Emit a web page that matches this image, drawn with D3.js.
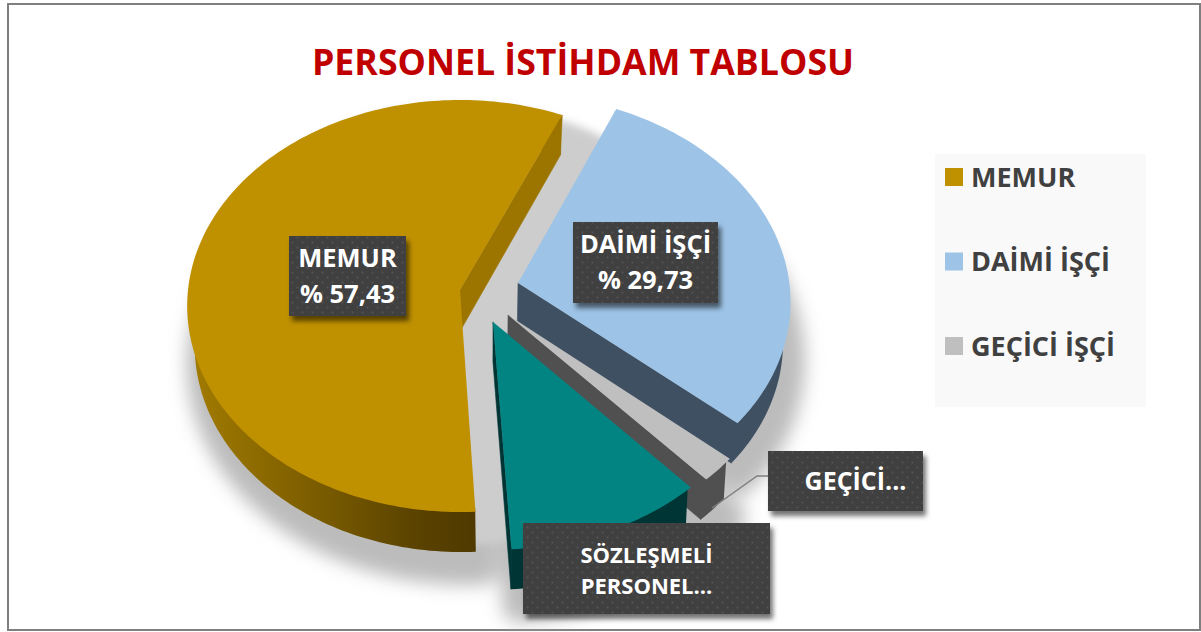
<!DOCTYPE html>
<html><head><meta charset="utf-8">
<script src="https://cdn.jsdelivr.net/npm/d3@7/dist/d3.min.js"></script>
<style>html,body{margin:0;padding:0;background:#fff}svg{display:block}text{font-family:"Open Sans",sans-serif;font-weight:700}</style>
</head><body><div id="c"></div>
<script>
// ---- data ----
const categories = ["MEMUR","DAİMİ İŞÇİ","GEÇİCİ İŞÇİ","SÖZLEŞMELİ PERSONEL"];
const values = [57.43, 29.73, 2.0, 10.84];
const legendItems = ["MEMUR","DAİMİ İŞÇİ","GEÇİCİ İŞÇİ"];
const labelLines = [["MEMUR","% 57,43"],["DAİMİ İŞÇİ","% 29,73"],["GEÇİCİ..."],["SÖZLEŞMELİ","PERSONEL..."]];
const titleText = "PERSONEL İSTİHDAM TABLOSU";
// ---- layout / style ----
const W=1201,H=632;
const explode=[[0,0],[.214,.034],[.175,-.121],[.120,-.154]];
const topCol=["#BF9000","#9DC3E6","#BFBFBF","#028482"];
const cutCol=["#9C7500","#3F5062","#505050","#003535"];
const wallCol=["url(#goldWall)","#3F5062","#505050","#003535"];
const boxes=[
 {x:289,y:236,w:117,h:80,fs:25.5,lh:36,b:267},
 {x:573,y:222,w:145,h:81,fs:25.5,lh:36,b:253},
 {x:768,y:451,w:155,h:60,fs:25,lh:0,b:490,dx:10},
 {x:523,y:523,w:247,h:91,fs:22,lh:31,b:563}];
const cx=460,cy=306,A=206,C=272,P=.0777,B=-16,DEPTH=40;
const scaleU=d3.scaleLinear().domain([-1,1]).range([-C,C]);
const scaleV=d3.scaleLinear().domain([-1,1]).range([A,-A]);
function project(u,v,low){
  const w=1+P*v;
  let x=cx+scaleU(u)/w, y=cy+(scaleV(v)+B)/w;
  if(low){x=490+.975*(x-490);y+=DEPTH;}
  return [x,y];
}
const pie=d3.pie().sort(null).startAngle(177*Math.PI/180).endAngle((177+360)*Math.PI/180);
const arcs=pie(values);
const line=d3.line();
function arcPts(d,i,low){
  const n=Math.max(4,Math.ceil((d.endAngle-d.startAngle)/0.02));
  return d3.range(n+1).map(k=>{
    const t=d.startAngle+(d.endAngle-d.startAngle)*k/n;
    return project(explode[i][0]+Math.sin(t),explode[i][1]+Math.cos(t),low);
  });
}
const apex=(i,low)=>project(explode[i][0],explode[i][1],low);
const svg=d3.select("#c").append("svg").attr("width",W).attr("height",H);
const defs=svg.append("defs");
const g1=defs.append("linearGradient").attr("id","goldWall").attr("gradientUnits","userSpaceOnUse")
  .attr("x1",190).attr("x2",474).attr("y1",0).attr("y2",0);
[[0,"#A27B00"],[.45,"#7A5C00"],[.8,"#5A4200"],[1,"#503A00"]].forEach(s=>g1.append("stop").attr("offset",s[0]).attr("stop-color",s[1]));
const blur=defs.append("filter").attr("id","blur").attr("x","-20%").attr("y","-20%").attr("width","140%").attr("height","140%");
blur.append("feGaussianBlur").attr("stdDeviation",9);
const soft=defs.append("filter").attr("id","soft").attr("x","-10%").attr("y","-10%").attr("width","120%").attr("height","120%");
soft.append("feGaussianBlur").attr("stdDeviation",4);
const boxSh=defs.append("filter").attr("id","boxSh").attr("x","-10%").attr("y","-10%").attr("width","125%").attr("height","130%");
boxSh.append("feDropShadow").attr("dx",3).attr("dy",5).attr("stdDeviation",2.5).attr("flood-color","#000").attr("flood-opacity",.55);
const pat=defs.append("pattern").attr("id","dots").attr("patternUnits","userSpaceOnUse").attr("width",10).attr("height",10);
pat.append("rect").attr("width",10).attr("height",10).attr("fill","#404040");
[[2.5,2.5],[7.5,7.5]].forEach(p=>pat.append("circle").attr("cx",p[0]).attr("cy",p[1]).attr("r",1.1).attr("fill","#525252"));
// frame
svg.append("rect").attr("x",8).attr("y",4).attr("width",1192).attr("height",626).attr("fill","#fff").attr("stroke","#7f7f7f").attr("stroke-width",2);
// title
svg.append("text").attr("x",583).attr("y",74.5).attr("text-anchor","middle").attr("font-size",35.7).attr("fill","#C00000").text(titleText);
// shadow
const sh=svg.append("g").attr("filter","url(#blur)").attr("fill","#bcbcbc").attr("stroke","#bcbcbc").attr("stroke-width",30).attr("stroke-linejoin","round");
arcs.forEach((d,i)=>{
  const pts=[apex(i,true),...arcPts(d,i,true)];
  sh.append("path").attr("d",line(pts)+"Z").attr("transform","translate(7,18)");
});
// gap fill: the un-exploded cylinder, softened, seen between the slices
const disc=svg.append("g").attr("filter","url(#soft)").attr("fill","#cdcdcd");
[false,true].forEach(low=>disc.append("path").attr("d",line(d3.range(0,361,3).map(a=>project(.97*Math.sin(a*Math.PI/180),.97*Math.cos(a*Math.PI/180),low)))+"Z"));
// slices
const gs=svg.selectAll("g.s").data(arcs).join("g").attr("class","s");
gs.each(function(d,i){
  const g=d3.select(this);
  const t=arcPts(d,i,false), b=arcPts(d,i,true);
  const a0=apex(i,false),a1=apex(i,true);
  // outer wall tucked just under the top face so no fringe shows along its rim
  const tucked=t.map(p=>[p[0]+(a0[0]-p[0])*.015,p[1]+(a0[1]-p[1])*.015]);
  g.append("path").attr("d",line([...tucked,...b.slice().reverse()])+"Z").attr("fill",wallCol[i]);
  // only the cut face at each slice's end angle looks toward the viewer
  const e0=t[t.length-1],e1=b[b.length-1];
  g.append("path").attr("d",line([a0,e0,e1,a1])+"Z").attr("fill",cutCol[i]).attr("stroke",cutCol[i]).attr("stroke-width",.6);
  g.append("path").attr("d",line([a0,...t])+"Z").attr("fill",topCol[i]);
});
// leader line
svg.append("path").attr("d",line(d3.zip([712,757,768],[508,476,476]))).attr("fill","none").attr("stroke","#7f7f7f").attr("stroke-width",1.5);
// labels
boxes.forEach((b,i)=>{
  svg.append("rect").attr("x",b.x).attr("y",b.y).attr("width",b.w).attr("height",b.h).attr("fill","url(#dots)").attr("filter","url(#boxSh)");
  labelLines[i].forEach((s,k)=>svg.append("text").attr("x",b.x+b.w/2+(b.dx||0)).attr("y",b.b+k*b.lh).attr("text-anchor","middle").attr("font-size",b.fs).attr("fill","#fff").text(s));
});
// legend
svg.append("rect").attr("x",935).attr("y",154).attr("width",211).attr("height",253).attr("fill","#f9f9f9");
const legendColor=d3.scaleOrdinal().domain(legendItems).range(topCol);
const legendY=d3.scalePoint().domain(legendItems).range([177,346]);
legendItems.forEach(s=>{
  svg.append("rect").attr("x",945).attr("y",legendY(s)-9).attr("width",18).attr("height",18).attr("fill",legendColor(s));
  svg.append("text").attr("x",971).attr("y",legendY(s)+9.5).attr("font-size",27).attr("fill","#404040").text(s);
});
</script></body></html>
